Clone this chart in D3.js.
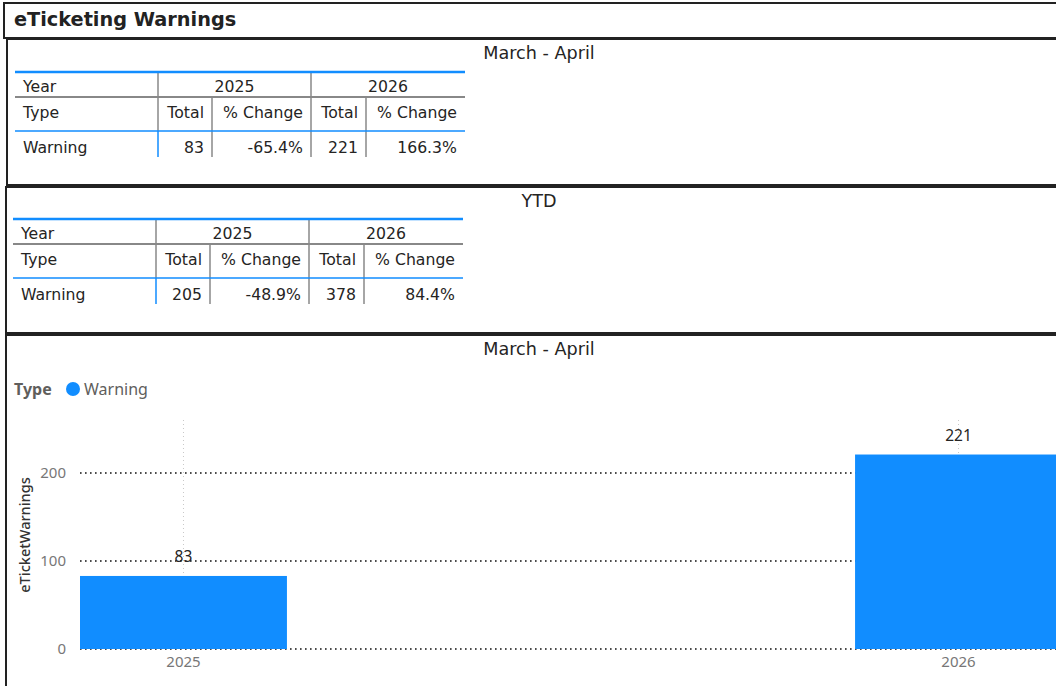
<!DOCTYPE html>
<html>
<head>
<meta charset="utf-8">
<script src="https://cdn.jsdelivr.net/npm/d3@7"></script>
<style>
  html, body { margin: 0; padding: 0; background: #fff; overflow: hidden; }
  svg { display: block; }
</style>
</head>
<body>
<div id="chart"></div>
<script>
// dados da página
const titulo = 'eTicketing Warnings';
const anos = ['2025', '2026'];
const tipos = ['Warning'];
const colunas = ['Total', '% Change'];
const periodoTotais = [83, 221];
const periodoVariacao = ['-65.4%', '166.3%'];
const ytdTotais = [205, 378];
const ytdVariacao = ['-48.9%', '84.4%'];
const yTicks = [0, 100, 200];

const W = 1056, H = 686;
const azul = '#118DFF';
const fonteTabela = '"DejaVu Sans", Verdana, sans-serif';
const fonteGrafico = '"Noto Sans", "Open Sans", sans-serif';

const svg = d3.select('#chart').append('svg')
  .attr('width', W).attr('height', H);

// caixa do título
svg.append('rect').attr('x', 4).attr('y', 3).attr('width', W + 10).attr('height', 35)
  .attr('fill', '#fff').attr('stroke', '#222').attr('stroke-width', 2);
svg.append('text').attr('x', 14).attr('y', 19).attr('dominant-baseline', 'central')
  .attr('font-family', fonteTabela).attr('font-weight', 'bold').attr('font-size', 19.3)
  .attr('fill', '#222').text(titulo);

// painéis
const paineis = [
  { x: 7, y: 39, h: 146 },
  { x: 6, y: 187, h: 146 },
  { x: 6, y: 335, h: 360 }
];
paineis.forEach(p => {
  svg.append('rect').attr('x', p.x).attr('y', p.y).attr('width', W + 10).attr('height', p.h)
    .attr('fill', '#fff').attr('stroke', '#222').attr('stroke-width', 2);
});

function tituloPainel(txt, y) {
  svg.append('text').attr('x', 539).attr('y', y).attr('text-anchor', 'middle')
    .attr('dominant-baseline', 'central')
    .attr('font-family', fonteTabela).attr('font-size', 17.6).attr('fill', '#252423').text(txt);
}
tituloPainel('March - April', 53);
tituloPainel('YTD', 201);
tituloPainel('March - April', 349);

// tabela matriz
function tabela(x0, y0, totais, variacoes) {
  const g = svg.append('g').attr('transform', `translate(${x0},${y0})`);
  const cols = [0, 143, 197, 296, 351, 450]; // bordas das colunas
  const rTop = 0, rAno = 25, rTipo = 59, rFim = 85;
  const txt = (x, y, s, anchor) => g.append('text').attr('x', x).attr('y', y)
    .attr('text-anchor', anchor || 'start').attr('dominant-baseline', 'central')
    .attr('font-family', fonteTabela).attr('font-size', 15.7).attr('fill', '#252423').text(s);
  const linha = (x1, y1, x2, y2, cor, w) => g.append('line')
    .attr('x1', x1).attr('y1', y1).attr('x2', x2).attr('y2', y2)
    .attr('stroke', cor).attr('stroke-width', w);

  // linhas
  linha(cols[1], rTop, cols[1], rTipo, '#888', 1.5);
  linha(cols[1], rTipo, cols[1], rFim, azul, 1.5);
  linha(cols[3], rTop, cols[3], rFim, '#888', 1.5);
  linha(cols[2], rAno, cols[2], rFim, '#888', 1.5);
  linha(cols[4], rAno, cols[4], rFim, '#888', 1.5);
  linha(0, rTop, cols[5], rTop, azul, 2.5);
  linha(0, rAno, cols[5], rAno, '#888', 2);
  linha(0, rTipo, cols[5], rTipo, azul, 1.5);

  txt(8, 14, 'Year');
  anos.forEach((a, i) => txt((cols[1 + 2 * i] + cols[3 + 2 * i]) / 2, 14, a, 'middle'));
  txt(8, 40, 'Type');
  anos.forEach((a, i) => {
    colunas.forEach((c, j) => txt(cols[2 + 2 * i + j] - 8, 40, c, 'end'));
  });
  tipos.forEach(t => {
    txt(8, 75, t);
    anos.forEach((a, i) => {
      txt(cols[2 + 2 * i] - 8, 75, totais[i], 'end');
      txt(cols[3 + 2 * i] - 8, 75, variacoes[i], 'end');
    });
  });
}
tabela(15, 72, periodoTotais, periodoVariacao);
tabela(13, 219, ytdTotais, ytdVariacao);

// legenda
svg.append('text').attr('x', 14).attr('y', 389).attr('dominant-baseline', 'central')
  .attr('font-family', fonteGrafico).attr('font-weight', 'bold').attr('font-size', 16)
  .attr('fill', '#605E5C').text('Type');
svg.append('circle').attr('cx', 73).attr('cy', 389).attr('r', 7).attr('fill', azul);
svg.append('text').attr('x', 84).attr('y', 389).attr('dominant-baseline', 'central')
  .attr('font-family', fonteGrafico).attr('font-size', 16)
  .attr('fill', '#605E5C').text(tipos[0]);

// gráfico de colunas
const x = d3.scaleBand().domain(anos).range([80, 1062]).paddingInner(0.733).paddingOuter(0);
const y = d3.scaleLinear().domain([0, 250]).range([649, 429]);

// grade vertical
svg.append('g').selectAll('line').data(anos).join('line')
  .attr('x1', d => x(d) + x.bandwidth() / 2).attr('x2', d => x(d) + x.bandwidth() / 2)
  .attr('y1', 420).attr('y2', y(0))
  .attr('stroke', '#c8c8c8').attr('stroke-dasharray', '1,3');

// grade horizontal
svg.append('g').selectAll('line').data(yTicks).join('line')
  .attr('x1', 80).attr('x2', W).attr('y1', d => y(d)).attr('y2', d => y(d))
  .attr('stroke', '#111').attr('stroke-width', 1.6).attr('stroke-dasharray', '1.6,3.4');

// barras
svg.append('g').selectAll('rect').data(periodoTotais).join('rect')
  .attr('x', (d, i) => x(anos[i])).attr('width', x.bandwidth())
  .attr('y', d => y(d)).attr('height', d => y(0) - y(d))
  .attr('fill', azul);

// rótulos de dados
svg.append('g').selectAll('text').data(periodoTotais).join('text')
  .attr('x', (d, i) => x(anos[i]) + x.bandwidth() / 2).attr('y', d => y(d) - 20)
  .attr('text-anchor', 'middle').attr('dominant-baseline', 'central')
  .attr('font-family', fonteGrafico).attr('font-size', 15.5).attr('fill', '#252423')
  .text(d => d);

// eixo Y
const eixoY = svg.append('g').attr('transform', 'translate(80,0)')
  .call(d3.axisLeft(y).tickValues(yTicks).tickSize(0).tickPadding(14));
eixoY.select('.domain').remove();
eixoY.selectAll('text').attr('font-family', fonteGrafico).attr('font-size', 15).attr('fill', '#777');

// eixo X
const eixoX = svg.append('g').attr('transform', `translate(0,${y(0)})`)
  .call(d3.axisBottom(x).tickSize(0).tickPadding(7));
eixoX.select('.domain').remove();
eixoX.selectAll('text').attr('font-family', fonteGrafico).attr('font-size', 15).attr('fill', '#777');

// título do eixo Y
svg.append('text').attr('transform', 'translate(24,535) rotate(-90)')
  .attr('text-anchor', 'middle').attr('dominant-baseline', 'central')
  .attr('font-family', fonteGrafico).attr('font-size', 14.5).attr('font-weight', 500).attr('fill', '#333')
  .text('eTicketWarnings');
</script>
</body>
</html>
